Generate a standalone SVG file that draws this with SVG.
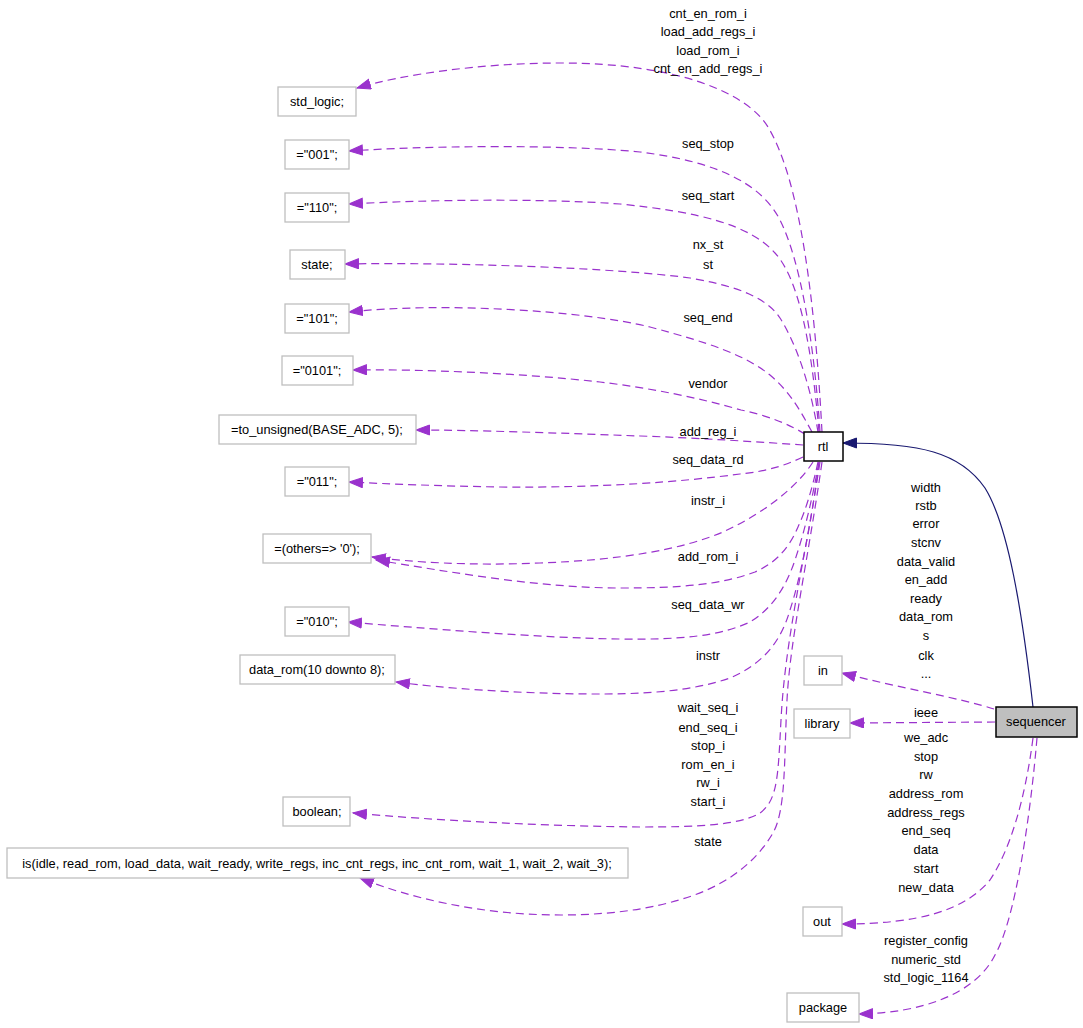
<svg xmlns="http://www.w3.org/2000/svg" width="1083" height="1028" viewBox="0 0 1083 1028">
<defs>
<style>
text{font-family:"Liberation Sans",Arial,Helvetica,sans-serif;font-size:12.8px;fill:#000;text-anchor:middle}
.n rect{fill:#fff;stroke:#bfbfbf;stroke-width:1.3}
.e path{fill:none;stroke:#9a32cd;stroke-width:1.2;stroke-dasharray:8,5;marker-end:url(#ap)}
.e path.b{stroke:#191970;stroke-dasharray:none;marker-end:url(#ab)}
</style>
<marker id="ap" markerUnits="userSpaceOnUse" markerWidth="16" markerHeight="12" refX="14" refY="5.5" orient="auto"><path d="M0.5,0.5 L14,5.5 L0.5,10.5 z" fill="#9a32cd" stroke="#9a32cd" stroke-width="1"/></marker>
<marker id="ab" markerUnits="userSpaceOnUse" markerWidth="16" markerHeight="12" refX="14" refY="5.5" orient="auto"><path d="M0.5,0.5 L14,5.5 L0.5,10.5 z" fill="#191970" stroke="#191970" stroke-width="1"/></marker>
</defs>
<rect width="1083" height="1028" fill="#fff"/>
<g id="connectors" class="e">
<path d="M822,432 C815,300 800,180 768,127 C748,94 680,63 560,63 C480,63 400,75 357,88"/>
<path d="M820,432 C814,340 800,260 780,220 C762,185 720,162 640,152 C560,144 420,146 349,151"/>
<path d="M819,432 C812,350 800,280 775,253 C750,225 700,212 620,204 C540,198 420,200 349,204"/>
<path d="M818,432 C812,395 800,350 780,318 C765,295 730,285 690,278 C620,268 450,262 345,264"/>
<path d="M812,432 C800,410 790,392 770,375 C745,355 710,343 650,327 C580,310 440,302 349,312"/>
<path d="M805,434 C790,425 770,416 741,410 C700,398 650,388 600,382 C520,373 420,369 353,370"/>
<path d="M803,445 C760,442 700,438 640,436 C560,433 470,430 416,430"/>
<path d="M803,457 C780,468 760,472 740,474 C680,482 600,488 500,487 C440,486 390,484 349,482"/>
<path d="M813,462 C795,490 760,515 723,532 C680,550 620,560 540,563 C470,566 410,562 372,557"/>
<path d="M818,462 C812,490 805,512 798,527 C788,550 775,563 755,572 C720,585 680,588 620,588 C540,588 450,572 376,560"/>
<path d="M819,462 C812,500 805,530 795,560 C785,590 770,610 750,622 C720,636 680,640 620,639 C540,638 420,628 348,622"/>
<path d="M819,462 C812,520 800,580 790,610 C780,645 760,665 730,678 C690,692 640,694 600,694 C520,694 440,688 396,682"/>
<path d="M820,462 C805,560 785,640 781,720 C778,775 778,800 760,813 C740,825 700,827 640,827 C540,826 430,820 353,813"/>
<path d="M822,462 C808,560 790,640 787,700 C784,760 786,810 773,833 C760,855 740,875 707,890 C670,906 620,915 561,915 C480,915 410,898 360,878"/>
<path class="b" d="M1033,707 C1022,610 1008,525 985,488 C960,452 920,443 843,443"/>
<path d="M994,709 C960,698 900,688 842,673"/>
<path d="M995,722 L850,723"/>
<path d="M1033,738 C1025,800 1010,850 990,880 C965,910 920,924 842,924"/>
<path d="M1037,738 C1030,820 1015,920 995,955 C975,995 920,1013 859,1014"/>
</g>
<g id="edge-labels">
<text x="708" y="18">cnt_en_rom_i</text>
<text x="708" y="36">load_add_regs_i</text>
<text x="708" y="55">load_rom_i</text>
<text x="708" y="73">cnt_en_add_regs_i</text>
<text x="708" y="148">seq_stop</text>
<text x="708" y="200">seq_start</text>
<text x="708" y="249">nx_st</text>
<text x="708" y="269">st</text>
<text x="708" y="322">seq_end</text>
<text x="708" y="388">vendor</text>
<text x="708" y="436">add_reg_i</text>
<text x="708" y="464">seq_data_rd</text>
<text x="708" y="505">instr_i</text>
<text x="708" y="561">add_rom_i</text>
<text x="708" y="609">seq_data_wr</text>
<text x="708" y="660">instr</text>
<text x="708" y="712">wait_seq_i</text>
<text x="708" y="732">end_seq_i</text>
<text x="708" y="750">stop_i</text>
<text x="708" y="769">rom_en_i</text>
<text x="708" y="787">rw_i</text>
<text x="708" y="806">start_i</text>
<text x="708" y="846">state</text>
<text x="926" y="492">width</text>
<text x="926" y="510">rstb</text>
<text x="926" y="528">error</text>
<text x="926" y="547">stcnv</text>
<text x="926" y="566">data_valid</text>
<text x="926" y="584">en_add</text>
<text x="926" y="603">ready</text>
<text x="926" y="621">data_rom</text>
<text x="926" y="640">s</text>
<text x="926" y="660">clk</text>
<text x="926" y="678">...</text>
<text x="926" y="717">ieee</text>
<text x="926" y="742">we_adc</text>
<text x="926" y="761">stop</text>
<text x="926" y="779">rw</text>
<text x="926" y="798">address_rom</text>
<text x="926" y="817">address_regs</text>
<text x="926" y="835">end_seq</text>
<text x="926" y="854">data</text>
<text x="926" y="873">start</text>
<text x="926" y="892">new_data</text>
<text x="926" y="945">register_config</text>
<text x="926" y="964">numeric_std</text>
<text x="926" y="982">std_logic_1164</text>
</g>
<g id="node-std_logic" class="n"><rect x="278" y="87" width="78" height="29"/><text x="317" y="106">std_logic;</text></g>
<g id="node-001" class="n"><rect x="285" y="140" width="64" height="29"/><text x="317" y="159">="001";</text></g>
<g id="node-110" class="n"><rect x="285" y="193" width="64" height="29"/><text x="317" y="212">="110";</text></g>
<g id="node-state" class="n"><rect x="290" y="250" width="55" height="29"/><text x="317" y="269">state;</text></g>
<g id="node-101" class="n"><rect x="285" y="304" width="64" height="29"/><text x="317" y="323">="101";</text></g>
<g id="node-0101" class="n"><rect x="282" y="356" width="71" height="29"/><text x="317" y="375">="0101";</text></g>
<g id="node-to_unsigned" class="n"><rect x="219" y="415" width="197" height="29"/><text x="317" y="434">=to_unsigned(BASE_ADC, 5);</text></g>
<g id="node-011" class="n"><rect x="285" y="467" width="64" height="29"/><text x="317" y="486">="011";</text></g>
<g id="node-others" class="n"><rect x="263" y="534" width="108" height="29"/><text x="317" y="553">=(others=&gt; '0');</text></g>
<g id="node-010" class="n"><rect x="285" y="607" width="64" height="29"/><text x="317" y="626">="010";</text></g>
<g id="node-data_rom" class="n"><rect x="240" y="655" width="155" height="29"/><text x="317" y="674">data_rom(10 downto 8);</text></g>
<g id="node-boolean" class="n"><rect x="283" y="797" width="67" height="29"/><text x="317" y="816">boolean;</text></g>
<g id="node-is" class="n"><rect x="7" y="848" width="621" height="30"/><text x="317" y="868">is(idle, read_rom, load_data, wait_ready, write_regs, inc_cnt_regs, inc_cnt_rom, wait_1, wait_2, wait_3);</text></g>
<g id="node-rtl"><rect x="804" y="432" width="39" height="29" fill="#fff" stroke="#000" stroke-width="1.5"/><text x="823" y="451">rtl</text></g>
<g id="node-sequencer"><rect x="996" y="707" width="81" height="30" fill="#bfbfbf" stroke="#000" stroke-width="1.5"/><text x="1036" y="726">sequencer</text></g>
<g id="node-in" class="n"><rect x="804" y="656" width="38" height="29"/><text x="823" y="675">in</text></g>
<g id="node-library" class="n"><rect x="794" y="709" width="56" height="29"/><text x="822" y="728">library</text></g>
<g id="node-out" class="n"><rect x="803" y="907" width="39" height="29"/><text x="822" y="926">out</text></g>
<g id="node-package" class="n"><rect x="787" y="993" width="72" height="29"/><text x="823" y="1012">package</text></g>
</svg>
